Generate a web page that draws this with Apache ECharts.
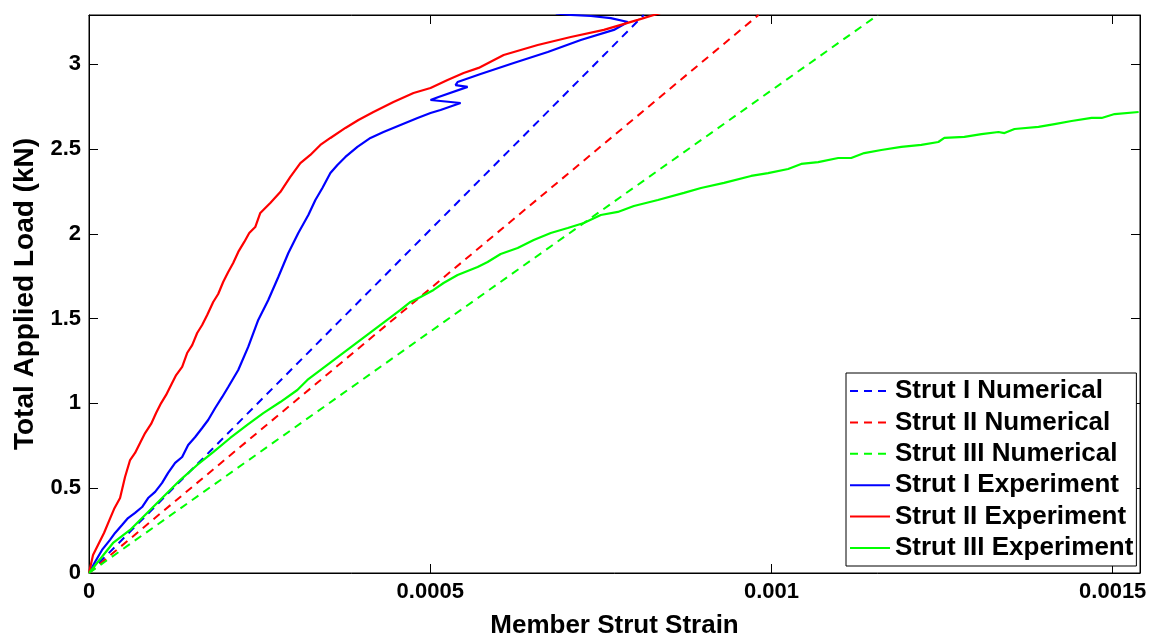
<!DOCTYPE html>
<html>
<head>
<meta charset="utf-8">
<script src="https://cdn.jsdelivr.net/npm/echarts@6/dist/echarts.min.js"></script>
<style>
  html, body { margin: 0; padding: 0; background: #fff; }
  #chart { width: 1149px; height: 637px; }
</style>
</head>
<body>
<div id="chart"></div>
<script>
// Axis ranges and tick labels
const xRange = [0, 0.00154];
const yRange = [0, 3.29];
const xTickLabels = ['0', '0.0005', '0.001', '0.0015'];
const yTickLabels = ['0', '0.5', '1', '1.5', '2', '2.5', '3'];

// Numerical predictions: straight lines from the origin, [strain, load]
const strut1Numerical = [[0, 0], [0.000813, 3.29]];
const strut2Numerical = [[0, 0], [0.000981, 3.29]];
const strut3Numerical = [[0, 0], [0.001156, 3.29]];

// Experimental readings, [strain, load (kN)]
const strut1Experiment = [
  [0, 0], [0.0000088, 0.065], [0.0000191, 0.136], [0.0000308, 0.195], [0.0000382, 0.236],
  [0.0000484, 0.283], [0.0000572, 0.324], [0.0000675, 0.354], [0.0000778, 0.389],
  [0.0000866, 0.442], [0.0000969, 0.478], [0.0001071, 0.531], [0.0001159, 0.590],
  [0.0001262, 0.649], [0.0001365, 0.684], [0.0001453, 0.755], [0.0001556, 0.802],
  [0.0001658, 0.855], [0.0001746, 0.902], [0.0001849, 0.973], [0.0001952, 1.038],
  [0.0002040, 1.097], [0.0002187, 1.197], [0.0002333, 1.333], [0.0002480, 1.492],
  [0.0002627, 1.610], [0.0002774, 1.745], [0.0002921, 1.887], [0.0003067, 2.005],
  [0.0003214, 2.111], [0.0003317, 2.199], [0.0003420, 2.270], [0.0003537, 2.358],
  [0.0003640, 2.406], [0.0003757, 2.453], [0.0003933, 2.512], [0.0004124, 2.565],
  [0.0004315, 2.600], [0.0004564, 2.642], [0.0004814, 2.683], [0.0005004, 2.712],
  [0.0005151, 2.730], [0.0005445, 2.771], [0.0005004, 2.789], [0.0005122, 2.807],
  [0.0005548, 2.866], [0.0005371, 2.877], [0.0005401, 2.895], [0.0005738, 2.942],
  [0.0006223, 3.007], [0.0006722, 3.072], [0.0007206, 3.143], [0.0007690, 3.202],
  [0.0007896, 3.249], [0.0007646, 3.272], [0.0007353, 3.284], [0.0007059, 3.290],
  [0.0006840, 3.300]
];
const strut2Experiment = [
  [0, 0], [0.0000059, 0.106], [0.0000132, 0.165], [0.0000220, 0.236], [0.0000294, 0.307],
  [0.0000367, 0.377], [0.0000455, 0.442], [0.0000528, 0.566], [0.0000602, 0.666],
  [0.0000675, 0.708], [0.0000748, 0.767], [0.0000822, 0.825], [0.0000910, 0.879],
  [0.0000983, 0.943], [0.0001057, 1.002], [0.0001130, 1.050], [0.0001203, 1.108],
  [0.0001277, 1.167], [0.0001365, 1.215], [0.0001438, 1.297], [0.0001512, 1.344],
  [0.0001585, 1.415], [0.0001658, 1.462], [0.0001732, 1.521], [0.0001820, 1.598],
  [0.0001893, 1.645], [0.0001966, 1.716], [0.0002040, 1.775], [0.0002113, 1.828],
  [0.0002187, 1.893], [0.0002275, 1.952], [0.0002348, 2.005], [0.0002436, 2.040],
  [0.0002510, 2.123], [0.0002656, 2.182], [0.0002803, 2.246], [0.0002950, 2.335],
  [0.0003097, 2.417], [0.0003243, 2.465], [0.0003390, 2.524], [0.0003537, 2.565],
  [0.0003757, 2.624], [0.0003948, 2.671], [0.0004168, 2.718], [0.0004461, 2.777],
  [0.0004755, 2.830], [0.0005004, 2.860], [0.0005254, 2.907], [0.0005489, 2.948],
  [0.0005709, 2.978], [0.0006076, 3.054], [0.0006575, 3.113], [0.0007059, 3.160],
  [0.0007544, 3.202], [0.0008042, 3.261], [0.0008277, 3.290], [0.0008400, 3.305]
];
const strut3Experiment = [
  [0, 0], [0.0000352, 0.177], [0.0000602, 0.254], [0.0000851, 0.354], [0.0001086, 0.448],
  [0.0001336, 0.548], [0.0001585, 0.637], [0.0001820, 0.713], [0.0002069, 0.796],
  [0.0002319, 0.873], [0.0002554, 0.943], [0.0002803, 1.008], [0.0003053, 1.079],
  [0.0003200, 1.138], [0.0004564, 1.551], [0.0004711, 1.598], [0.0004858, 1.627],
  [0.0005049, 1.669], [0.0005195, 1.710], [0.0005401, 1.757], [0.0005694, 1.804],
  [0.0005841, 1.834], [0.0006032, 1.881], [0.0006281, 1.916], [0.0006516, 1.963],
  [0.0006766, 2.005], [0.0007015, 2.034], [0.0007250, 2.064], [0.0007499, 2.111],
  [0.0007749, 2.129], [0.0007984, 2.164], [0.0008336, 2.199], [0.0008718, 2.241],
  [0.0008967, 2.270], [0.0009305, 2.300], [0.0009701, 2.341], [0.0009950, 2.358],
  [0.0010244, 2.382], [0.0010435, 2.412], [0.0010684, 2.423], [0.0010978, 2.447],
  [0.0011168, 2.447], [0.0011359, 2.476], [0.0011609, 2.494], [0.0011902, 2.512],
  [0.0012196, 2.524], [0.0012445, 2.541], [0.0012533, 2.565], [0.0012827, 2.571],
  [0.0013077, 2.588], [0.0013326, 2.600], [0.0013414, 2.594], [0.0013561, 2.618],
  [0.0013913, 2.630], [0.0014148, 2.647], [0.0014397, 2.665], [0.0014691, 2.683],
  [0.0014838, 2.683], [0.0015028, 2.706], [0.0015380, 2.718]
];

const FONT = '"Liberation Sans", Arial, sans-serif';
const BLUE = '#0000ff', RED = '#ff0000', GREEN = '#00ff00';

function dashed(name, data, color) {
  return {
    name, type: 'line', data, showSymbol: false, symbol: 'none',
    lineStyle: { color, width: 2, type: [8, 6] }, itemStyle: { color },
    animation: false, z: 2
  };
}
function solid(name, data, color) {
  return {
    name, type: 'line', data, showSymbol: false, symbol: 'none',
    lineStyle: { color, width: 2.2 }, itemStyle: { color },
    animation: false, z: 3
  };
}

// Box axes: every side carries inward ticks, only bottom/left carry labels
function ticks() {
  return { show: true, inside: true, length: 9, lineStyle: { color: '#000', width: 1 } };
}
function line() {
  return { show: true, onZero: false, lineStyle: { color: '#000', width: 1 } };
}
function tickLabels(names, margin) {
  return {
    margin, showMaxLabel: false,
    fontFamily: FONT, fontWeight: 'bold', fontSize: 22, color: '#000',
    formatter: (v, i) => names[i] !== undefined ? names[i] : ''
  };
}
const titleStyle = { fontFamily: FONT, fontWeight: 'bold', fontSize: 26, color: '#000' };

const chart = echarts.init(document.getElementById('chart'), null, { renderer: 'canvas' });
chart.setOption({
  animation: false,
  backgroundColor: '#fff',
  grid: {
    left: 89, right: 9, top: 15, bottom: 64, outerBoundsMode: 'none', containLabel: false,
    show: true, borderColor: '#000', borderWidth: 1
  },
  xAxis: [
    {
      type: 'value', min: xRange[0], max: xRange[1], interval: 0.0005, position: 'bottom',
      name: 'Member Strut Strain', nameLocation: 'middle', nameGap: 40,
      nameTextStyle: titleStyle,
      axisLine: line(), axisTick: ticks(), splitLine: { show: false },
      axisLabel: tickLabels(xTickLabels, 8)
    },
    {
      type: 'value', min: xRange[0], max: xRange[1], interval: 0.0005, position: 'top',
      axisLine: line(), axisTick: ticks(), axisLabel: { show: false }, splitLine: { show: false }
    }
  ],
  yAxis: [
    {
      type: 'value', min: yRange[0], max: yRange[1], interval: 0.5, position: 'left',
      name: 'Total Applied Load (kN)', nameLocation: 'middle', nameGap: 50,
      nameTextStyle: Object.assign({}, titleStyle, { fontSize: 28 }),
      axisLine: line(), axisTick: ticks(), splitLine: { show: false },
      axisLabel: tickLabels(yTickLabels, 8)
    },
    {
      type: 'value', min: yRange[0], max: yRange[1], interval: 0.5, position: 'right',
      axisLine: line(), axisTick: ticks(), axisLabel: { show: false }, splitLine: { show: false }
    }
  ],
  legend: {
    orient: 'vertical', left: 846, top: 373,
    backgroundColor: '#fff', borderColor: '#000', borderWidth: 1,
    padding: [5, 3, 5, 3], itemGap: 5.4, itemWidth: 40, itemHeight: 14,
    itemStyle: { opacity: 0 },
    textStyle: { fontFamily: FONT, fontWeight: 'bold', fontSize: 26, color: '#000', lineHeight: 26 },
    data: ['Strut I Numerical', 'Strut II Numerical', 'Strut III Numerical',
           'Strut I Experiment', 'Strut II Experiment', 'Strut III Experiment']
  },
  series: [
    dashed('Strut I Numerical', strut1Numerical, BLUE),
    dashed('Strut II Numerical', strut2Numerical, RED),
    dashed('Strut III Numerical', strut3Numerical, GREEN),
    solid('Strut I Experiment', strut1Experiment, BLUE),
    solid('Strut II Experiment', strut2Experiment, RED),
    solid('Strut III Experiment', strut3Experiment, GREEN)
  ]
});
</script>
</body>
</html>
